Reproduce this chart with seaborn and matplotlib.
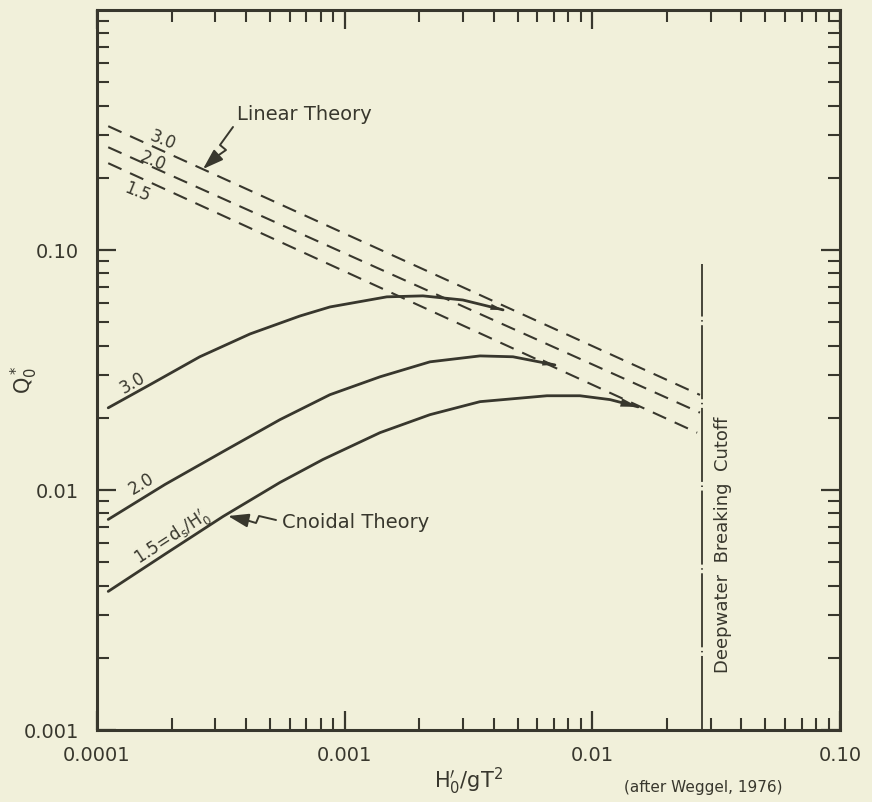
import matplotlib
matplotlib.use("Agg")
import matplotlib.pyplot as plt
import seaborn as sns
import pandas as pd
from matplotlib.lines import Line2D
from matplotlib.ticker import FixedLocator, FixedFormatter, LogLocator, NullFormatter

# ---------------- data ----------------
# Cnoidal theory curves, d_s/H'_0 = 3.0, 2.0, 1.5
cn_x_30 = [1.11e-4, 1.64e-4, 2.60e-4, 4.15e-4, 6.60e-4, 8.72e-4, 1.48e-3, 2.07e-3, 3.00e-3, 4.36e-3]
cn_y_30 = [0.0220, 0.0275, 0.0359, 0.0447, 0.0531, 0.0579, 0.0638, 0.0644, 0.0619, 0.0563]

cn_x_20 = [1.11e-4, 1.88e-4, 3.23e-4, 5.48e-4, 8.72e-4, 1.39e-3, 2.21e-3, 3.52e-3, 4.78e-3, 7.06e-3]
cn_y_20 = [0.00754, 0.01054, 0.01446, 0.01964, 0.02495, 0.02963, 0.0342, 0.0362, 0.0359, 0.0332]

cn_x_15 = [1.11e-4, 1.88e-4, 3.23e-4, 5.48e-4, 8.17e-4, 1.39e-3, 2.21e-3, 3.52e-3, 6.56e-3, 8.91e-3, 1.18e-2, 1.53e-2]
cn_y_15 = [0.00378, 0.0054, 0.00776, 0.01075, 0.0134, 0.01734, 0.0206, 0.02334, 0.0247, 0.0247, 0.0238, 0.0222]

# Linear theory lines
lin_x_30 = [1.11e-4, 0.0272]
lin_y_30 = [0.328, 0.0249]
lin_x_20 = [1.11e-4, 0.0272]
lin_y_20 = [0.268, 0.0210]
lin_x_15 = [1.11e-4, 0.0265]
lin_y_15 = [0.230, 0.01733]

# Deepwater breaking cutoff
cutoff_x = [0.0277, 0.0277]
cutoff_y = [0.001, 0.0875]

x_ticks = [1e-4, 1e-3, 1e-2, 1e-1]
x_labels = ["0.0001", "0.001", "0.01", "0.10"]
y_ticks = [1e-3, 1e-2, 1e-1]
y_labels = ["0.001", "0.01", "0.10"]

# ---------------- style ----------------
INK = "#38372d"
BG = "#f1f0da"

sns.set_theme(style="ticks")
plt.rcParams["font.family"] = ["DejaVu Sans"]
plt.rcParams["mathtext.fontset"] = "dejavusans"
plt.rcParams["text.color"] = INK
plt.rcParams["axes.labelcolor"] = INK

W, H = 872, 803
fig = plt.figure(figsize=(W / 100, H / 100), dpi=100, facecolor=BG)
ax = fig.add_axes([97 / W, 1 - 731 / H, (840 - 97) / W, (731 - 11) / H])
ax.set_facecolor(BG)
ax.set_xscale("log")
ax.set_yscale("log")


def P(x, y):
    return (x / W, 1 - y / H)


# cnoidal curves
for (xs, ys), ms in [((cn_x_30, cn_y_30), 10), ((cn_x_20, cn_y_20), 10), ((cn_x_15, cn_y_15), 14)]:
    df = pd.DataFrame({"x": xs, "y": ys})
    sns.lineplot(data=df, x="x", y="y", ax=ax, color=INK, lw=2.0,
                 sort=False, estimator=None)
    ax.lines[-1].set_solid_joinstyle("round")
    ax.annotate("", xy=(xs[-1], ys[-1]), xytext=(xs[-2], ys[-2]),
                arrowprops=dict(arrowstyle="-|>,head_length=0.9,head_width=0.22",
                                color=INK, lw=0.01, shrinkA=0, shrinkB=0,
                                mutation_scale=ms))

# linear theory dashed
for xs, ys in [(lin_x_30, lin_y_30), (lin_x_20, lin_y_20), (lin_x_15, lin_y_15)]:
    df = pd.DataFrame({"x": xs, "y": ys})
    sns.lineplot(data=df, x="x", y="y", ax=ax, color=INK, lw=1.5,
                 sort=False, estimator=None)
    ax.lines[-1].set_dashes((7, 4.5))

# cutoff line
df = pd.DataFrame({"x": cutoff_x, "y": cutoff_y})
sns.lineplot(data=df, x="x", y="y", ax=ax, color=INK, lw=1.3, sort=False, estimator=None)
ax.lines[-1].set_dashes((41, 2, 0.8, 2))

ax.set_xlim(1e-4, 1e-1)
ax.set_ylim(1e-3, 1.0)

# ticks
ax.xaxis.set_major_locator(FixedLocator(x_ticks))
ax.xaxis.set_major_formatter(FixedFormatter(x_labels))
ax.yaxis.set_major_locator(FixedLocator(y_ticks))
ax.yaxis.set_major_formatter(FixedFormatter(y_labels))
for axis in (ax.xaxis, ax.yaxis):
    axis.set_minor_locator(LogLocator(base=10, subs=range(2, 10)))
    axis.set_minor_formatter(NullFormatter())
ax.tick_params(which="both", direction="in", top=True, right=True, colors=INK)
ax.tick_params(which="major", length=14, width=1.6, labelsize=14)
ax.tick_params(which="minor", length=8.5, width=1.5)
ax.tick_params(axis="y", which="major", pad=13)
ax.tick_params(axis="x", which="major", pad=11)
for s in ax.spines.values():
    s.set_linewidth(2.2)
    s.set_color(INK)
ax.set_xlabel("")
ax.set_ylabel("")

# axis titles
fig.text(*P(468, 781), r"$\mathrm{H_0^{\prime}/gT^2}$", ha="center", va="center", fontsize=15)
fig.text(*P(24, 380), r"$\mathrm{Q_0^*}$", ha="center", va="center", fontsize=15, rotation=90)
fig.text(*P(703, 788), "(after Weggel, 1976)", ha="center", va="center", fontsize=11)

# annotations
fig.text(*P(237, 115), "Linear Theory", ha="left", va="center", fontsize=14)
fig.text(*P(282, 523), "Cnoidal Theory", ha="left", va="center", fontsize=14)
fig.text(*P(723, 545), "Deepwater  Breaking  Cutoff", ha="center", va="center",
         fontsize=13, rotation=90)

# curve labels
fig.text(*P(133, 383), "3.0", ha="center", va="center", fontsize=12, rotation=30)
fig.text(*P(141, 484), "2.0", ha="center", va="center", fontsize=12, rotation=31)
fig.text(*P(172, 538), r"$\mathrm{1.5\!=\!d_s/H_0^{\prime}}$", ha="center", va="center",
         fontsize=12, rotation=33)
fig.text(*P(163, 140), "3.0", ha="center", va="center", fontsize=12, rotation=-22)
fig.text(*P(153, 161), "2.0", ha="center", va="center", fontsize=12, rotation=-22)
fig.text(*P(137, 192), "1.5", ha="center", va="center", fontsize=12, rotation=-22)

# squiggly leader arrows
lin_path = [(233, 128), (220, 146), (226, 151), (216, 158)]
fig.add_artist(Line2D([P(*p)[0] for p in lin_path], [P(*p)[1] for p in lin_path],
                      transform=fig.transFigure, color=INK, lw=1.4))
ax.annotate("", xy=P(203, 170), xytext=P(216, 158), xycoords="figure fraction",
            textcoords="figure fraction",
            arrowprops=dict(arrowstyle="-|>,head_length=0.9,head_width=0.3",
                            color=INK, lw=1.4, shrinkA=0, shrinkB=0, mutation_scale=14))

cn_path = [(276, 521), (259, 517), (256, 524), (246, 521)]
fig.add_artist(Line2D([P(*p)[0] for p in cn_path], [P(*p)[1] for p in cn_path],
                      transform=fig.transFigure, color=INK, lw=1.4))
ax.annotate("", xy=P(228, 517), xytext=P(246, 521), xycoords="figure fraction",
            textcoords="figure fraction",
            arrowprops=dict(arrowstyle="-|>,head_length=0.9,head_width=0.3",
                            color=INK, lw=1.4, shrinkA=0, shrinkB=0, mutation_scale=14))

fig.savefig("out.png", dpi=100, facecolor=BG)
